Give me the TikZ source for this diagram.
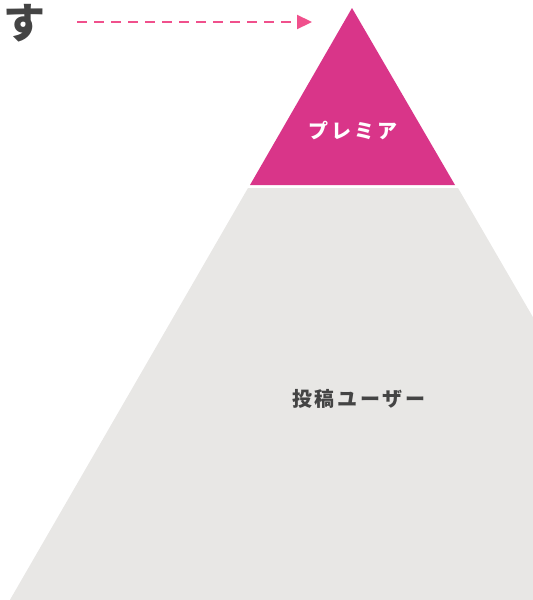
\documentclass[tikz,border=0pt]{standalone}
\usepackage{fontspec}
\setmainfont{Noto Sans CJK JP}
\usetikzlibrary{arrows.meta}

\definecolor{premiumpink}{HTML}{D93589}
\definecolor{userggray}{HTML}{E8E7E5}
\definecolor{arrowpink}{HTML}{F0508C}
\definecolor{textgray}{HTML}{444444}

\tikzset{
	layerlabel/.style={font=\bfseries\fontsize{20}{20}\selectfont\addfontfeatures{LetterSpace=14}},
	dasharrow/.style={arrowpink,line width=2.2pt,dash pattern=on 10pt off 7pt,
		-{Triangle[length=15pt,width=14pt]}}
}

\begin{document}
\begin{tikzpicture}[x=1pt,y=-1pt]
%Rahmen
\useasboundingbox (0,0) rectangle (533,600);
\clip (0,0) rectangle (533,600);
%Pyramide
\fill[premiumpink] (352,8)--(455,185)--(250,185)--cycle;
\fill[userggray] (248,188)--(458,188)--(700,605)--(7,605)--cycle;
\node[layerlabel,text=white] (premium) at (353,131) {プレミア};
\node[layerlabel,text=textgray] (users) at (359,399) {投稿ユーザー};
%Pfeil
\node[font=\bfseries\fontsize{42}{42}\selectfont,text=textgray,inner sep=0pt] (su) at (25,23) {す};
\coordinate (arrowend) at (312,22);
\draw[dasharrow] ([xshift=31pt]su.east|-arrowend)--(arrowend);
\end{tikzpicture}
\end{document}
